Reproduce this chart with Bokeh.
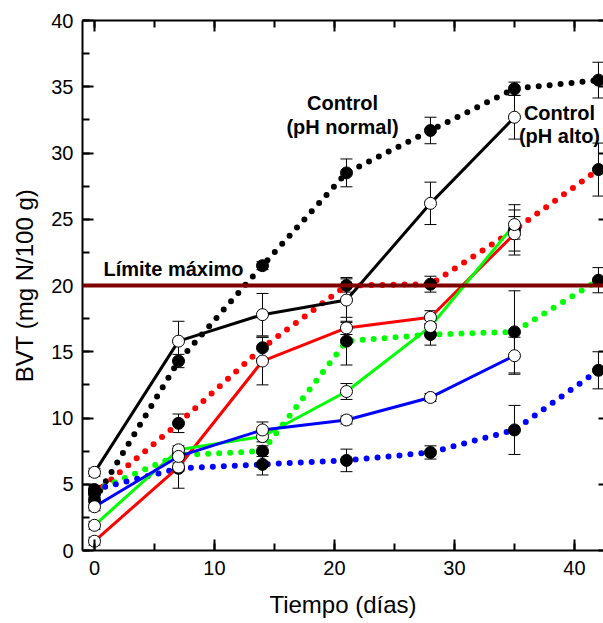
from bokeh.plotting import figure
from bokeh.models import (LinearAxis, Range1d, Span, Whisker, ColumnDataSource, TeeHead,
                          Label, SingleIntervalTicker)
from bokeh.embed import file_html
from bokeh.resources import INLINE

# ---------------- data ----------------
days_solid = [0, 7, 14, 21, 28, 35]
days_dotted = [0, 7, 14, 21, 28, 35, 42]

black_solid = [5.9, 15.8, 17.8, 18.9, 26.2, 32.7]
black_solid_err = [0.3, 1.5, 1.6, 1.7, 1.6, 1.65]
red_solid = [0.7, 6.3, 14.3, 16.8, 17.6, 23.9]
red_solid_err = [0.3, 0.3, 1.8, 0.5, 0.5, 1.3]
green_solid = [1.9, 7.6, 8.6, 12.0, 16.9, 24.6]
green_solid_err = [0.3, 0.3, 0.4, 0.6, 0.5, 1.1]
blue_solid = [3.3, 7.1, 9.1, 9.85, 11.55, 14.7]
blue_solid_err = [0.3, 0.3, 0.6, 0.3, 0.3, 1.4]

black_dot = [3.8, 14.3, 21.5, 28.5, 31.7, 34.85, 35.5]
black_dot_err = [0.3, 0.5, 0.3, 1.05, 1.0, 0.5, 1.35]
red_dot = [4.3, 9.6, 15.3, 20.0, 20.1, 24.2, 28.75]
red_dot_err = [0.3, 0.7, 0.8, 0.5, 0.6, 1.9, 2.0]
green_dot = [4.5, 7.2, 7.5, 15.8, 16.3, 16.5, 20.4]
green_dot_err = [0.3, 0.3, 0.4, 1.8, 0.8, 3.1, 0.95]
blue_dot = [4.6, 6.2, 6.5, 6.8, 7.4, 9.1, 13.6]
blue_dot_err = [0.3, 1.5, 0.8, 0.85, 0.5, 1.85, 1.4]

limit_value = 20
limit_text = "Límite máximo"
ctrl_normal_text = ["Control", "(pH normal)"]
ctrl_alto_text = ["Control", "(pH alto)"]

FONT = "Liberation Sans"

p = figure(width=603, height=621, x_range=Range1d(-1.0, 42.42), y_range=Range1d(0, 40),
           output_backend="svg", toolbar_location=None,
           min_border_left=82, min_border_right=0, min_border_top=20, min_border_bottom=71,
           x_axis_label="Tiempo (días)", y_axis_label="BVT (mg N/100 g)")
p.outline_line_color = None
p.grid.visible = False
p.background_fill_color = "white"
p.border_fill_color = "white"

xt = SingleIntervalTicker(interval=10, num_minor_ticks=2)
yt = SingleIntervalTicker(interval=5, num_minor_ticks=2)

for ax in p.xaxis:
    ax.ticker = xt
for ax in p.yaxis:
    ax.ticker = yt

for ax in list(p.xaxis) + list(p.yaxis):
    ax.axis_line_width = 2
    ax.major_tick_line_width = 2
    ax.minor_tick_line_width = 2
    ax.major_tick_out = 0
    ax.minor_tick_out = 0
    ax.major_tick_in = 11
    ax.minor_tick_in = 7
    ax.major_label_text_font = FONT
    ax.major_label_text_font_size = "20px"
    ax.major_label_text_color = "black"
    ax.axis_label_text_font = FONT
    ax.axis_label_text_font_size = "24px"
    ax.axis_label_text_font_style = "normal"
    ax.axis_label_text_color = "black"

p.xaxis.major_label_standoff = 10
p.xaxis.axis_label_standoff = 13
p.yaxis.major_label_standoff = 9
p.yaxis.axis_label_standoff = 10

top = LinearAxis(ticker=SingleIntervalTicker(interval=10, num_minor_ticks=2),
                 axis_line_width=2, major_tick_line_width=2, minor_tick_line_width=2,
                 major_tick_out=0, minor_tick_out=0, major_tick_in=11, minor_tick_in=7,
                 major_label_text_font_size="0px", major_label_text_color=None,
                 major_label_standoff=0)
p.add_layout(top, "above")

right = LinearAxis(ticker=SingleIntervalTicker(interval=5, num_minor_ticks=0),
                   axis_line_color=None, major_tick_line_width=2, minor_tick_line_color=None,
                   major_tick_out=0, minor_tick_out=0, major_tick_in=5, minor_tick_in=0,
                   major_label_text_font_size="0px", major_label_text_color=None,
                   major_label_standoff=0)
p.add_layout(right, "right")


def add_errors(xs, ys, es):
    src = ColumnDataSource(dict(x=xs, lo=[y - e for y, e in zip(ys, es)],
                                hi=[y + e for y, e in zip(ys, es)]))
    w = Whisker(source=src, base="x", lower="lo", upper="hi", line_color="black", line_width=1,
                upper_head=TeeHead(size=12, line_color="black", line_width=1),
                lower_head=TeeHead(size=12, line_color="black", line_width=1))
    p.add_layout(w)


solid = [(black_solid, black_solid_err, "black"), (red_solid, red_solid_err, "#ff0000"),
         (green_solid, green_solid_err, "#00ff00"), (blue_solid, blue_solid_err, "#0000ff")]
dotted = [(black_dot, black_dot_err, "black"), (red_dot, red_dot_err, "#ff0000"),
          (green_dot, green_dot_err, "#00ff00"), (blue_dot, blue_dot_err, "#0000ff")]

for ys, es, c in solid:
    add_errors(days_solid, ys, es)
for ys, es, c in dotted:
    add_errors(days_dotted, ys, es)

for ys, es, c in dotted:
    p.line(days_dotted, ys, line_color=c, line_width=6, line_dash="0 11", line_cap="round")
for ys, es, c in solid:
    p.line(days_solid, ys, line_color=c, line_width=3)

p.add_layout(Span(location=limit_value, dimension="width", line_color="#800000", line_width=4))

for ys, es, c in dotted:
    p.scatter(days_dotted, ys, size=12, marker="circle", fill_color="black", line_color="black",
              line_width=1)
for ys, es, c in solid:
    p.scatter(days_solid, ys, size=12, marker="circle", fill_color="white", line_color="black",
              line_width=1)

lab_kw = dict(text_font=FONT, text_font_size="20px", text_font_style="bold", text_color="black",
              text_baseline="middle")
p.add_layout(Label(x=0.75, y=21.24, text=limit_text, text_align="left", **lab_kw))
p.add_layout(Label(x=20.67, y=33.75, text=ctrl_normal_text[0], text_align="center", **lab_kw))
p.add_layout(Label(x=20.67, y=31.94, text=ctrl_normal_text[1], text_align="center", **lab_kw))
p.add_layout(Label(x=38.75, y=33.0, text=ctrl_alto_text[0], text_align="center", **lab_kw))
p.add_layout(Label(x=38.75, y=31.26, text=ctrl_alto_text[1], text_align="center", **lab_kw))

open("out.html", "w").write(file_html(p, INLINE))
